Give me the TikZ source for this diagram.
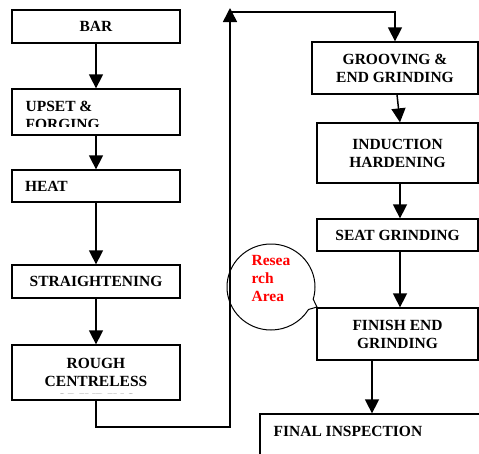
\documentclass[tikz,border=0pt]{standalone}
\usepackage{fontspec}
\setmainfont{Liberation Serif}
\usetikzlibrary{arrows.meta,shapes.callouts}

\tikzset{
    stage/.style={draw, line width=1.3pt, inner sep=0pt, align=center,
        font=\bfseries\fontsize{15.5}{18}\selectfont},
    flow/.style={line width=1.5pt, -{Triangle[width=14pt,length=14pt]}},
    cuttext/.style={draw=none, inner sep=0pt, minimum size=0pt, text width=,
        font=\bfseries\fontsize{15.5}{18}\selectfont}
}

\begin{document}
\begin{tikzpicture}[x=1pt,y=-1pt]
    \clip (0,0) rectangle (479,453);
    % left column
    \node[stage, minimum width=168pt, minimum height=33pt] (bar) at (96,26.5) {BAR};
    \node[stage, minimum width=168pt, minimum height=46pt,
        path picture={
            \clip ([yshift=8.5pt]path picture bounding box.south west)
                rectangle (path picture bounding box.north east);
            \node[cuttext, anchor=north west, align=left] (upsettext)
                at ([xshift=13pt,yshift=-11.5pt]path picture bounding box.north west)
                {UPSET \&\\FORGING};
        }] (upset) at (96,112) {};
    \node[stage, text width=142pt, align=left, inner xsep=13pt, minimum height=32pt] (heat) at (96,186) {HEAT};
    \node[stage, minimum width=168pt, minimum height=33pt] (straight) at (96,281.5) {STRAIGHTENING};
    \node[stage, minimum width=168pt, minimum height=55pt,
        path picture={
            \clip ([yshift=6.5pt]path picture bounding box.south west)
                rectangle (path picture bounding box.north east);
            \node[cuttext, anchor=north, align=center] (roughtext)
                at ([yshift=-12.5pt]path picture bounding box.north)
                {ROUGH\\CENTRELESS\\GRINDING};
        }] (rough) at (96,372.5) {};
    % right column
    \node[stage, minimum width=166pt, minimum height=52pt] (groove) at (395,68) {GROOVING \&\\END GRINDING};
    \node[stage, minimum width=161pt, minimum height=60pt] (induct) at (397.5,153) {INDUCTION\\HARDENING};
    \node[stage, minimum width=161pt, minimum height=32pt] (seat) at (397.5,235) {SEAT GRINDING};
    \node[stage, minimum width=161pt, minimum height=52pt] (finish) at (397.5,334) {FINISH END\\GRINDING};
    \node[stage, minimum width=230pt, minimum height=66pt,
        path picture={
            \node[cuttext, anchor=base west] (finaltext)
                at ([xshift=13pt,yshift=-22.5pt]path picture bounding box.north west)
                {FINAL INSPECTION};
        }] (final) at (375,447) {};
    % research bubble
    \node[ellipse callout, draw, line width=1pt, minimum width=88pt, minimum height=86pt,
        callout absolute pointer={(317,307)}] (research) at (271,287) {};
    \node[align=left, text=red, inner sep=0pt, font=\bfseries\fontsize{15.5}{18}\selectfont]
        (researchtext) at (271,278.5) {Resea\\rch\\Area};
    % connectors
    \coordinate (turn) at (230,427);
    \coordinate (top) at (230,8);
    \coordinate (bend) at (230,12);
    \draw[flow] (bar) -- (upset);
    \draw[flow] (upset) -- (heat);
    \draw[flow] (heat) -- (straight);
    \draw[flow] (straight) -- (rough);
    \draw[flow] (rough.south) |- (turn) -- (top);
    \draw[flow] (bend) -| (groove.north);
    \draw[flow] ([xshift=2pt]groove.south) -- ([xshift=2.5pt]induct.north);
    \draw[flow] ([xshift=2.5pt]induct.south) -- ([xshift=2.5pt]seat.north);
    \draw[flow] ([xshift=2.5pt]seat.south) -- ([xshift=2.5pt]finish.north);
    \draw[flow] ([xshift=-25.5pt]finish.south) -- ([xshift=-25.5pt]finish.south |- final.north);
\end{tikzpicture}
\end{document}
